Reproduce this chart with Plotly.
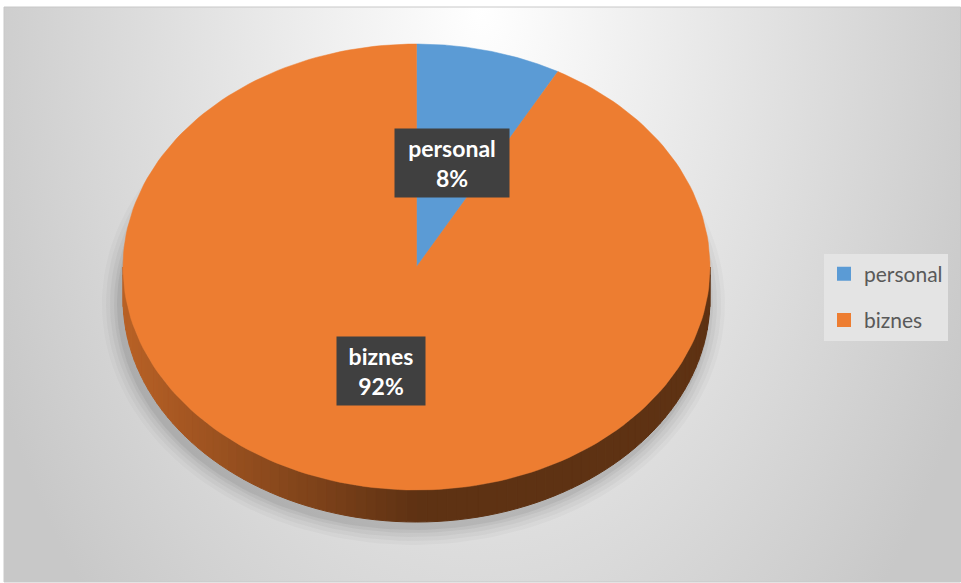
import base64
import numpy as np
import plotly.graph_objects as go

# ---- data ----
categories = ["personal", "biznes"]
values = [8, 92]
colors = ["#5B9BD5", "#ED7D31"]

# ---- geometry / style (pixel space) ----
W, H = 961, 583
cx, cy = 416.5, 267.0
rx, ry = 293.5, 223.0
depth = 32.0
label_frac = 0.48


def hex_to_rgb(h):
    h = h.lstrip("#")
    return tuple(int(h[i:i + 2], 16) for i in (0, 2, 4))


def pt(theta_deg, dy=0.0, sx=rx, sy=ry):
    t = np.radians(theta_deg)
    return cx + sx * np.sin(t), cy - sy * np.cos(t) + dy


total = float(sum(values))
bounds = [0.0]
for v in values:
    bounds.append(bounds[-1] + 360.0 * v / total)

fig = go.Figure()

# soft shadow under the pie
for k, a in [(18, 0.025), (14, 0.03), (10, 0.035), (6, 0.045), (3, 0.055)]:
    th = np.linspace(0, 360, 200)
    xs, ys = pt(th, depth + 5, rx + k, ry + k)
    fig.add_trace(go.Scatter(x=xs - 3, y=ys, mode="lines", fill="toself",
                             fillcolor=f"rgba(0,0,0,{a})", line=dict(width=0),
                             hoverinfo="skip", showlegend=False))

# side wall (front half), shaded per slice with a left-to-right gradient
N = 90
edges = np.linspace(90, 270, N + 1)
xl, xm = cx - rx, cx
for i in range(N):
    a0, a1 = edges[i], edges[i + 1]
    mid = 0.5 * (a0 + a1)
    idx = next(j for j in range(len(values)) if bounds[j] <= mid <= bounds[j + 1])
    base = np.array(hex_to_rgb(colors[idx]), dtype=float)
    mx, _ = pt(mid)
    t = np.clip((mx - xl) / (xm - xl), 0, 1)
    fac = 0.78 - 0.38 * t
    c = base * fac
    col = f"rgb({int(c[0])},{int(c[1])},{int(c[2])})"
    th = np.linspace(a0, a1, 6)
    x_top, y_top = pt(th)
    x_bot, y_bot = pt(th[::-1], depth)
    xs = np.concatenate([x_top, x_bot, x_top[:1]])
    ys = np.concatenate([y_top, y_bot, y_top[:1]])
    fig.add_trace(go.Scatter(x=xs, y=ys, mode="lines", fill="toself",
                             fillcolor=col, line=dict(width=1, color=col),
                             hoverinfo="skip", showlegend=False))

# top face slices
for i, (cat, v) in enumerate(zip(categories, values)):
    th = np.linspace(bounds[i], bounds[i + 1], 200)
    ax, ay = pt(th)
    xs = np.concatenate([[cx], ax, [cx]])
    ys = np.concatenate([[cy], ay, [cy]])
    fig.add_trace(go.Scatter(x=xs, y=ys, mode="lines", fill="toself",
                             fillcolor=colors[i], line=dict(width=0.5, color=colors[i]),
                             hoverinfo="skip", showlegend=False))

# legend entries
for cat, c in zip(categories, colors):
    fig.add_trace(go.Scatter(x=[None], y=[None], mode="markers", name=cat,
                             legendgroup=cat,
                             marker=dict(symbol="square", size=14, color=c)))

# data labels
annotations = []
for i, (cat, v) in enumerate(zip(categories, values)):
    mid = 0.5 * (bounds[i] + bounds[i + 1])
    lx, ly = pt(mid, 0, rx * label_frac, ry * label_frac)
    pct = round(100 * v / total)
    annotations.append(dict(
        x=lx, y=ly, xref="x", yref="y", showarrow=False,
        text=f"<b>{cat}<br>{pct}%</b>",
        font=dict(family="Lato, Open Sans, sans-serif", size=23, color="white"),
        bgcolor="#404040", borderpad=5, width=len(cat) * 13,
        align="center"))

# background gradient
svg = (
    '<svg xmlns="http://www.w3.org/2000/svg" width="957" height="575">'
    '<defs><radialGradient id="g" gradientUnits="userSpaceOnUse" cx="478" cy="0" r="540" '
    'gradientTransform="translate(478 0) scale(1 1.6) translate(-478 0)">'
    '<stop offset="0" stop-color="#FFFFFF"/><stop offset="1" stop-color="#C8C8C8"/>'
    '</radialGradient></defs><rect width="957" height="575" fill="url(#g)"/></svg>'
)
src = "data:image/svg+xml;base64," + base64.b64encode(svg.encode()).decode()

fig.update_layout(
    width=W, height=H,
    margin=dict(l=0, r=0, t=0, b=0),
    paper_bgcolor="white", plot_bgcolor="rgba(0,0,0,0)",
    xaxis=dict(range=[0, W], visible=False, fixedrange=True),
    yaxis=dict(range=[H, 0], visible=False, fixedrange=True),
    showlegend=True,
    legend=dict(x=824 / W, y=1 - 297 / H, xanchor="left", yanchor="middle",
                bgcolor="#E4E4E4", tracegroupgap=16, itemwidth=30,
                font=dict(family="Lato, Open Sans, sans-serif", size=21, color="#595959")),
    annotations=annotations,
    images=[dict(source=src, xref="paper", yref="paper", x=4 / W, y=1 - 7 / H,
                 sizex=957 / W, sizey=575 / H, xanchor="left", yanchor="top",
                 sizing="stretch", layer="below")],
    shapes=[dict(type="rect", xref="x", yref="y", x0=4, y0=7, x1=960.5, y1=582,
                 line=dict(color="#C8C8C8", width=1))],
)

fig.write_html("out.html")
